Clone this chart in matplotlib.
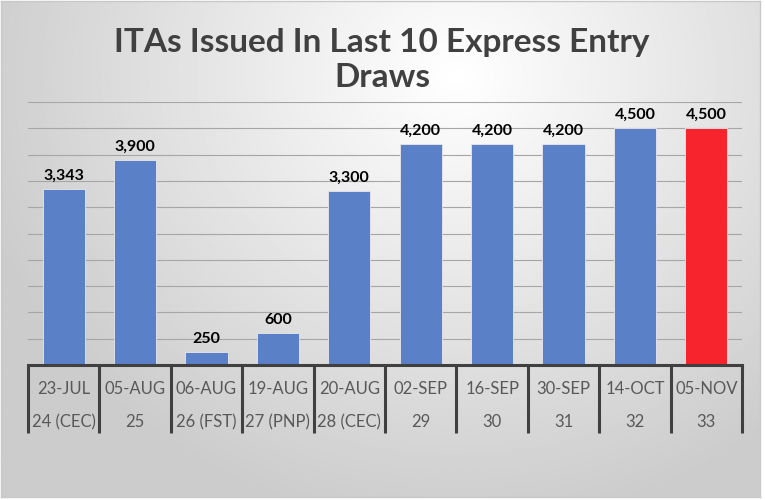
import numpy as np
import matplotlib.pyplot as plt
import matplotlib.transforms as mtransforms

dates = ['23-JUL', '05-AUG', '06-AUG', '19-AUG', '20-AUG', '02-SEP', '16-SEP', '30-SEP', '14-OCT', '05-NOV']
draws = ['24 (CEC)', '25', '26 (FST)', '27 (PNP)', '28 (CEC)', '29', '30', '31', '32', '33']
itas = [3343, 3900, 250, 600, 3300, 4200, 4200, 4200, 4500, 4500]
colors = ['#5A80C8'] * 9 + ['#F7242D']

plt.rcParams['font.family'] = ['Lato', 'DejaVu Sans']

W, H = 765, 500
fig = plt.figure(figsize=(W / 100, H / 100), dpi=100)
fig.patch.set_facecolor('white')

# radial gradient background
bg = fig.add_axes([1 / W, 3 / H, 759 / W, 496 / H], zorder=-5)
yy, xx = np.mgrid[0:1:300j, 0:1:460j]
r = np.sqrt(((xx - 0.6) * 1.4) ** 2 + (yy - 0.15) ** 2)
shade = np.clip(1.0 - 0.22 * r, 0.80, 1.0)
bg.imshow(shade, cmap='gray', vmin=0, vmax=1, aspect='auto', extent=[0, 1, 1, 0])
bg.set_xticks([])
bg.set_yticks([])
for s in bg.spines.values():
    s.set_color('#c8c8c8')
    s.set_linewidth(1)

ax = fig.add_axes([28 / W, 1 - 365 / H, (742 - 28) / W, (365 - 102) / H])
ax.patch.set_alpha(0)
x = np.arange(len(itas))
bars = ax.bar(x, itas, width=0.59, color=colors, edgecolor='#e8e8e8', linewidth=0.6, zorder=3)

ax.set_xlim(-0.5, len(itas) - 0.5)
ax.set_ylim(0, 5000)
ax.set_yticks(np.arange(0, 5001, 500))
ax.yaxis.grid(True, color='#a6a6a6', linewidth=0.8, zorder=0)
ax.tick_params(left=False, labelleft=False, bottom=False, labelbottom=False)
for s in ['top', 'right', 'left']:
    ax.spines[s].set_visible(False)
ax.spines['bottom'].set_color('#404040')
ax.spines['bottom'].set_linewidth(2.2)
ax.spines['bottom'].set_zorder(4)

for rect, v in zip(bars, itas):
    ax.text(rect.get_x() + rect.get_width() / 2, v + 120, f'{v:,}',
            ha='center', va='bottom', fontsize=11.5, fontweight='bold', color='black')

# two level category table under the axis
trans = mtransforms.blended_transform_factory(ax.transData, ax.transAxes)
for i in range(len(itas) + 1):
    ax.plot([i - 0.5, i - 0.5], [0, -0.259], transform=trans, color='#404040',
            linewidth=2.2, clip_on=False, solid_capstyle='butt')
for i, (d, n) in enumerate(zip(dates, draws)):
    ax.text(i, -0.091, d, transform=trans, ha='center', va='center', fontsize=12, color='#595959')
    ax.text(i, -0.217, n, transform=trans, ha='center', va='center', fontsize=12, color='#595959')

fig.text(382 / W, 1 - 60 / H, 'ITAs Issued In Last 10 Express Entry\nDraws', ha='center', va='center',
         fontsize=24, fontweight='bold', color='#404040', linespacing=1.25)

fig.savefig('out.png', dpi=100)
